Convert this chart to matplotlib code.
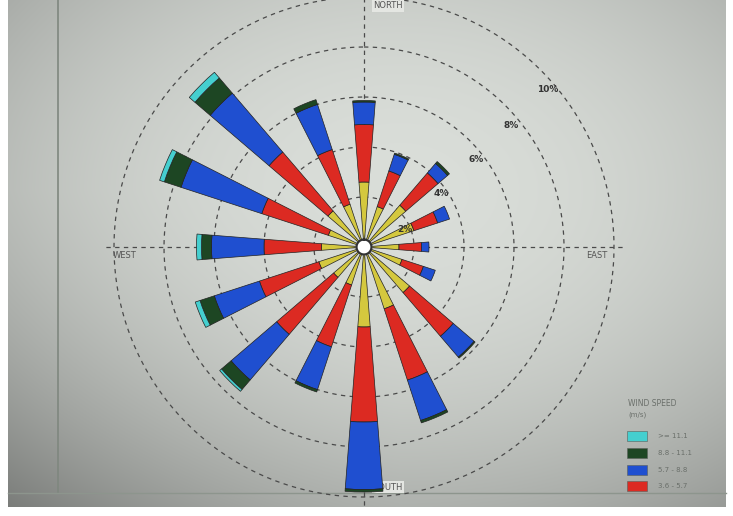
import numpy as np
import matplotlib
matplotlib.use('Agg')
import matplotlib.pyplot as plt
from matplotlib.patches import Rectangle

# figure size in pixels and the rose geometry
W_PX, H_PX = 733, 516
CX, CY = 364, 247          # centre of the rose (pixels, from top-left)
PX_PER_PCT = 25.0          # radial scale: pixels per 1 % frequency
R_LIM = 10.6

# 16 compass sectors, clockwise from north
directions = ['N', 'NNE', 'NE', 'ENE', 'E', 'ESE', 'SE', 'SSE',
              'S', 'SSW', 'SW', 'WSW', 'W', 'WNW', 'NW', 'NNW']

# frequency (%) of each speed class per sector
freq_2_36 = [2.6, 1.7, 2.2, 2.1, 1.4, 1.6, 2.4, 2.6, 3.2, 1.6, 1.6, 1.9, 1.7, 1.5, 1.9, 1.8]
freq_36_57 = [2.3, 1.5, 1.7, 1.0, 0.9, 0.9, 2.3, 3.0, 3.8, 2.6, 3.0, 2.5, 2.3, 2.8, 3.1, 2.3]
freq_57_88 = [0.9, 0.7, 0.5, 0.5, 0.3, 0.5, 1.1, 1.7, 2.7, 1.8, 2.4, 1.9, 2.1, 3.4, 3.1, 1.9]
freq_88_111 = [0.06, 0.05, 0.1, 0.0, 0.0, 0.0, 0.05, 0.1, 0.1, 0.1, 0.5, 0.6, 0.4, 0.7, 0.8, 0.2]
freq_111 = [0.0, 0.0, 0.0, 0.0, 0.0, 0.0, 0.0, 0.0, 0.0, 0.0, 0.1, 0.2, 0.2, 0.2, 0.3, 0.0]

class_colors = ['#d4c83e', '#dc2a22', '#1f4fd0', '#1d4623', '#45cfcf']

legend_labels = ['>= 11.1', '8.8 - 11.1', '5.7 - 8.8', '3.6 - 5.7']
legend_colors = ['#45cfcf', '#1d4623', '#1f4fd0', '#dc2a22']

ring_pcts = [2, 4, 6, 8, 10]
ring_labels = ['2%', '4%', '6%', '8%', '10%']

fig = plt.figure(figsize=(W_PX / 100, H_PX / 100), dpi=100)

# --- screen background with darker corners ---
yy, xx = np.mgrid[0:H_PX, 0:W_PX]
u = (xx - 400) / 420.0
v = (yy - 190) / 330.0
shade = 1 - 0.17 * u ** 2 - 0.22 * v ** 2 - 0.10 * np.clip(-u, 0, None) * np.clip(v, 0, None)
base = np.array([218, 222, 217]) / 255.0
img = np.clip(shade[..., None] * base, 0, 1)
# white margin round the screen
img[:, :8] = 1.0
img[:, 726:] = 1.0
img[507:, :] = 1.0

bg = fig.add_axes([0, 0, 1, 1], zorder=0)
bg.imshow(img, extent=[0, W_PX, H_PX, 0], aspect='auto', interpolation='bilinear')
bg.set_xlim(0, W_PX)
bg.set_ylim(H_PX, 0)
bg.axis('off')
bg.plot([58, 58], [0, 493], color='#7f877f', lw=1.2)
bg.plot([8, 726], [493, 493], color='#8d958d', lw=1.0)
bg.text(388, 487, 'SOUTH', fontsize=6, color='#555', ha='center', va='center',
        bbox=dict(facecolor='#e4e6e2', edgecolor='none', pad=1.0))
bg.text(388, 6, 'NORTH', fontsize=6, color='#555', ha='center', va='center',
        bbox=dict(facecolor='#e4e6e2', edgecolor='none', pad=1.0))

# --- the rose ---
r_px = R_LIM * PX_PER_PCT
ax = fig.add_axes([(CX - r_px) / W_PX, (H_PX - CY - r_px) / H_PX,
                   2 * r_px / W_PX, 2 * r_px / H_PX], projection='polar', zorder=1)
ax.set_theta_zero_location('N')
ax.set_theta_direction(-1)
ax.set_ylim(0, R_LIM)
ax.axis('off')
ax.patch.set_alpha(0)

t = np.linspace(0, 2 * np.pi, 500)
for p in ring_pcts:
    ax.plot(t, np.full_like(t, p), color='#4a4a4a', lw=0.9, ls=(0, (3.5, 3.5)), zorder=1)
for a in [0, 0.5 * np.pi, np.pi, 1.5 * np.pi]:
    ax.plot([a, a], [0, 10.4], color='#4a4a4a', lw=0.9, ls=(0, (3.5, 3.5)), zorder=1)

theta = np.deg2rad(np.arange(len(directions)) * 22.5)
series = [freq_2_36, freq_36_57, freq_57_88, freq_88_111, freq_111]
bottom = np.zeros(len(directions))
for vals, col in zip(series, class_colors):
    vals = np.array(vals)
    m = vals > 0
    ax.bar(theta[m], vals[m], width=0.155, bottom=bottom[m], color=col,
           edgecolor='#222222', linewidth=0.5, zorder=3)
    bottom += vals

# calm circle in the middle
ax.fill(t, np.full_like(t, 0.3), color='white', zorder=5)
ax.plot(t, np.full_like(t, 0.3), color='#333333', lw=1.6, zorder=6)

# --- labels and legend on top ---
top = fig.add_axes([0, 0, 1, 1], zorder=2)
top.set_xlim(0, W_PX)
top.set_ylim(H_PX, 0)
top.axis('off')

label_xy = [(405, 229), (441, 194), (476, 160), (511, 126), (548, 90)]
for (x, y), s in zip(label_xy, ring_labels):
    top.text(x, y, s, fontsize=6.5, color='#333', ha='center', va='center', fontweight='bold')

top.text(125, 255, 'WEST', fontsize=6, color='#555', ha='center', va='center')
top.text(597, 256, 'EAST', fontsize=6, color='#555', ha='center', va='center')

top.text(628, 403, 'WIND SPEED', fontsize=5.5, color='#6a6f6a', ha='left', va='center')
top.text(628, 415, '(m/s)', fontsize=5, color='#6a6f6a', ha='left', va='center')
box_y = [431, 448, 465, 481]
for y, lab, col in zip(box_y, legend_labels, legend_colors):
    top.add_patch(Rectangle((627, y), 20, 10, facecolor=col, edgecolor='#5a5f5a', lw=0.4))
    top.text(658, y + 5, lab, fontsize=5, color='#6a6f6a', ha='left', va='center')

fig.savefig('out.png', dpi=100)
